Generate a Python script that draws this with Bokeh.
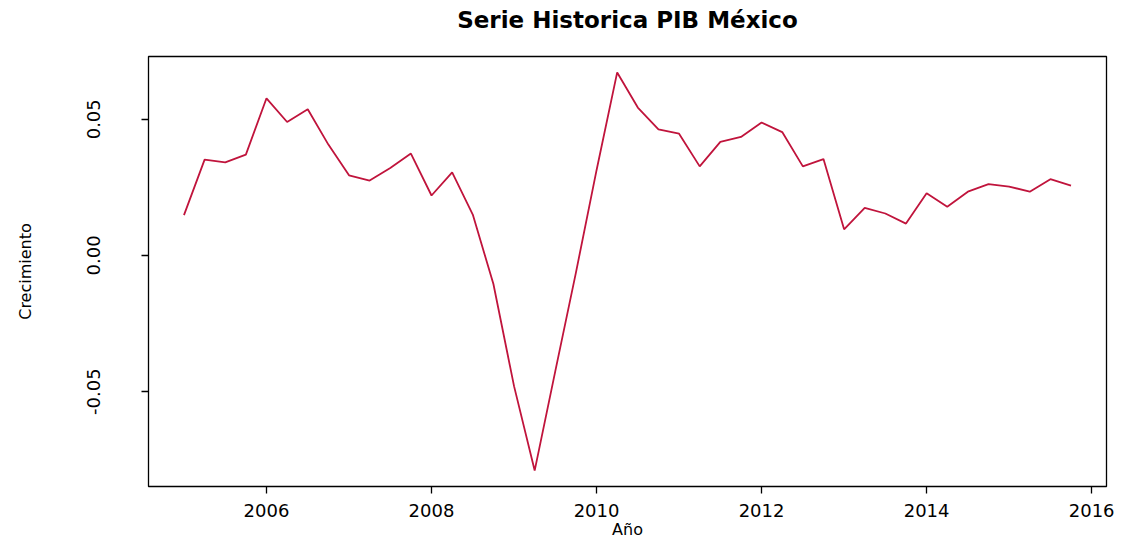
from bokeh.plotting import figure
from bokeh.models import FixedTicker, PrintfTickFormatter, Range1d, Title
from bokeh.embed import file_html
from bokeh.resources import INLINE

# Quarterly GDP growth, Mexico (2005Q1 - 2015Q4)
crecimiento = [
    0.0148, 0.0352, 0.0342, 0.0370,
    0.0577, 0.0490, 0.0537, 0.0407,
    0.0294, 0.0275, 0.0321, 0.0374,
    0.0220, 0.0305, 0.0150, -0.0105,
    -0.0480, -0.0790, -0.0425, -0.0063,
    0.0313, 0.0672, 0.0543, 0.0463,
    0.0447, 0.0327, 0.0417, 0.0435,
    0.0488, 0.0453, 0.0327, 0.0354,
    0.0096, 0.0175, 0.0154, 0.0117,
    0.0228, 0.0179, 0.0234, 0.0262,
    0.0253, 0.0234, 0.0280, 0.0256,
]
inicio = 2005
frecuencia = 4
anio = [inicio + q / frecuencia for q in range(len(crecimiento))]

x_ticks = [2006, 2008, 2010, 2012, 2014, 2016]
y_ticks = [-0.05, 0.0, 0.05]

titulo = "Serie Historica PIB México"
x_label = "Año"
y_label = "Crecimiento"

def padded(vals, frac=0.04):
    lo, hi = min(vals), max(vals)
    d = (hi - lo) * frac
    return lo - d, hi + d

x0, x1 = padded(anio)
y0, y1 = padded(crecimiento)

p = figure(width=1116, height=542, output_backend="svg", toolbar_location=None,
           x_range=Range1d(x0, x1), y_range=Range1d(y0, y1),
           min_border_left=148, min_border_right=10, min_border_top=56, min_border_bottom=56)

p.line(anio, crecimiento, line_color="#C0143C", line_width=1.8)

# spacer between frame and title (nearest the frame), then the title itself
p.add_layout(Title(text=" ", text_font_size="1px", standoff=14), "above")
p.add_layout(Title(text=titulo, align="center", vertical_align="top",
                   text_font="DejaVu Sans", text_font_style="bold",
                   text_font_size="23px", text_color="black", standoff=10), "above")

p.grid.visible = False
p.outline_line_color = "black"
p.outline_line_width = 1.3
p.outline_line_alpha = 1.0
p.background_fill_color = "white"
p.border_fill_color = "white"

xa = p.xaxis[0]
xa.ticker = FixedTicker(ticks=x_ticks)
xa.axis_line_color = None
xa.major_tick_in = 0
xa.major_tick_out = 7
xa.major_tick_line_color = "black"
xa.major_tick_line_width = 1.3
xa.minor_tick_line_color = None
xa.major_label_text_font = "DejaVu Sans"
xa.major_label_text_font_size = "18px"
xa.major_label_text_color = "black"
xa.major_label_standoff = 10
xa.axis_label = x_label
xa.axis_label_text_font = "DejaVu Sans"
xa.axis_label_text_font_size = "16px"
xa.axis_label_text_font_style = "normal"
xa.axis_label_text_color = "black"
xa.axis_label_standoff = 0

ya = p.yaxis[0]
ya.ticker = FixedTicker(ticks=y_ticks)
ya.formatter = PrintfTickFormatter(format="%.2f")
ya.axis_line_color = None
ya.major_tick_in = 0
ya.major_tick_out = 7
ya.major_tick_line_color = "black"
ya.major_tick_line_width = 1.3
ya.minor_tick_line_color = None
ya.major_label_orientation = "vertical"
ya.major_label_text_font = "DejaVu Sans"
ya.major_label_text_font_size = "18px"
ya.major_label_text_color = "black"
ya.major_label_standoff = 41
ya.axis_label = y_label
ya.axis_label_text_font = "DejaVu Sans"
ya.axis_label_text_font_size = "16px"
ya.axis_label_text_font_style = "normal"
ya.axis_label_text_color = "black"
ya.axis_label_standoff = 50

open("out.html", "w").write(file_html(p, INLINE))
